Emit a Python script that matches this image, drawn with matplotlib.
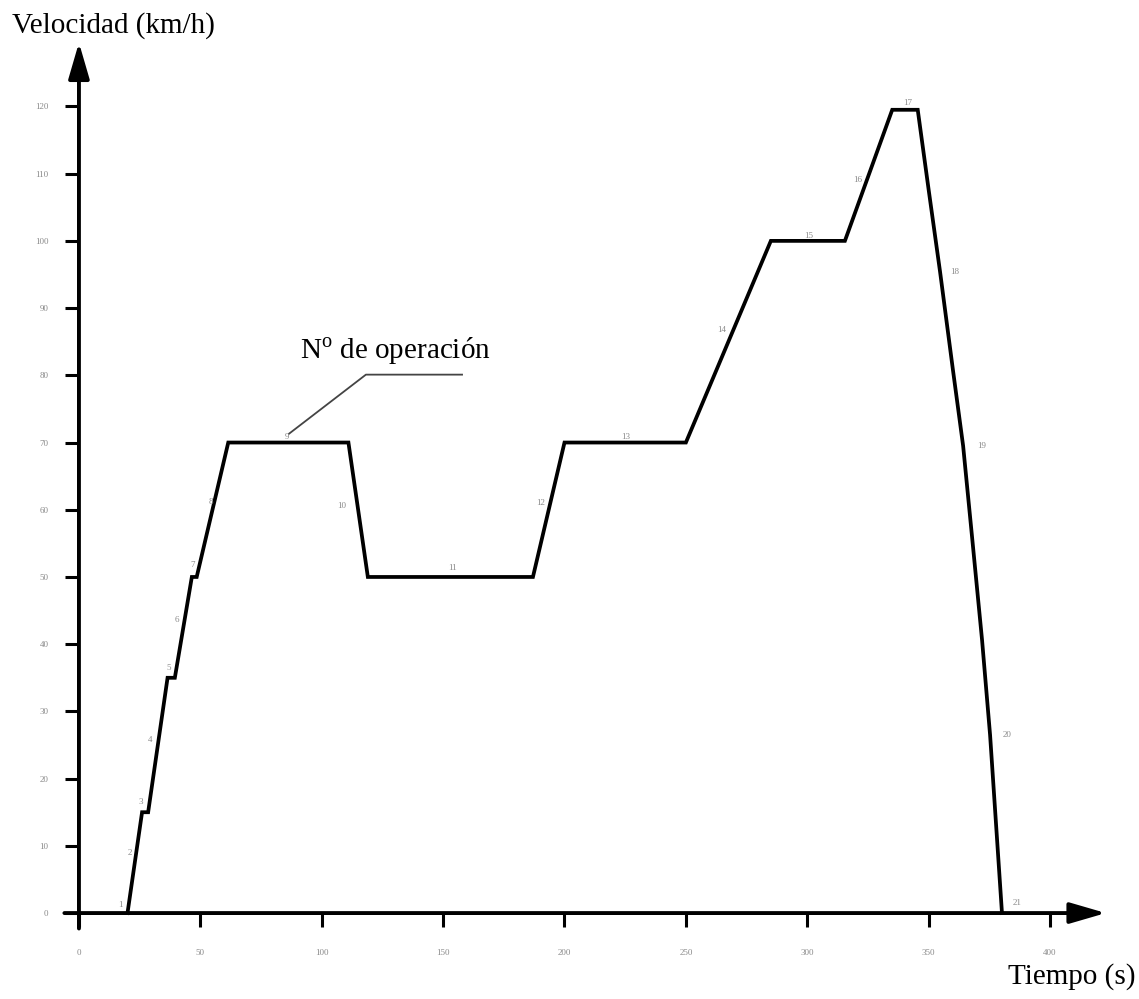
import matplotlib
matplotlib.use('Agg')
import matplotlib.pyplot as plt

plt.rcParams['mathtext.fontset'] = 'custom'
plt.rcParams['mathtext.rm'] = 'Liberation Serif'

# velocity profile (time s, speed km/h)
tiempo = [20, 26, 28.5, 36.5, 39.5, 46.5, 48.5, 61.5, 111, 119, 187, 200, 250,
          285, 315.5, 335, 345.5, 350, 354.7, 360, 364.2, 368, 372, 375.3, 380.2]
velocidad = [0, 15, 15, 35, 35, 50, 50, 70, 70, 50, 50, 70, 70,
             100, 100, 119.5, 119.5, 107.6, 95.4, 80.8, 69.5, 55.5, 40.6, 26.5, 0]

# operation numbers and where their labels sit
op_num = [str(i) for i in range(1, 22)]
op_t = [16.9, 21, 25.5, 29.5, 37.1, 40.4, 47, 54.4, 85.7, 108.3, 153.7,
        190, 225.3, 264.9, 300.7, 320.9, 341.5, 360.9, 372, 382.3, 386.4]
op_v = [1.2, 8.9, 16.5, 25.7, 36.5, 43.6, 51.8, 61.2, 70.8, 60.6, 51.3,
        61, 70.8, 86.8, 100.7, 109.1, 120.5, 95.4, 69.5, 26.5, 1.5]

x_ticks = [0, 50, 100, 150, 200, 250, 300, 350, 400]
y_ticks = [0, 10, 20, 30, 40, 50, 60, 70, 80, 90, 100, 110, 120]

# leader line for the "Nº de operación" callout
leader_t = [86.5, 118.2, 157.8]
leader_v = [71.3, 80.1, 80.1]

serif = ['Liberation Serif', 'DejaVu Serif']

fig = plt.figure(figsize=(11.39, 9.99), dpi=100)
ax = fig.add_axes([0.048, 0.0322, 0.9485, 0.942])
ax.set_xlim(-10, 435)
ax.set_ylim(-8, 132)

for s in ax.spines.values():
    s.set_visible(False)
ax.spines['left'].set_position(('data', 0))
ax.spines['bottom'].set_position(('data', 0))

# axes drawn as arrows
arrow = dict(arrowstyle='-|>,head_length=1.1,head_width=0.32', lw=2.8,
             color='black', shrinkA=0, shrinkB=0, mutation_scale=20)
ax.annotate('', xy=(423, 0), xytext=(-6, 0), arrowprops=arrow)
ax.annotate('', xy=(0, 129.5), xytext=(0, -2.3), arrowprops=arrow)

ax.set_xticks(x_ticks)
ax.set_yticks(y_ticks)
ax.tick_params(axis='both', direction='out', length=10, width=2.2,
               color='black', labelsize=6.5, labelcolor='#8a8a8a')
ax.tick_params(axis='x', pad=16)
ax.tick_params(axis='y', pad=12)
for lab in ax.get_xticklabels() + ax.get_yticklabels():
    lab.set_family(serif)

ax.plot(tiempo, velocidad, color='black', lw=2.7, solid_joinstyle='miter',
        zorder=3)
ax.plot(leader_t, leader_v, color='#444444', lw=1.3, zorder=2)

for n, t, v in zip(op_num, op_t, op_v):
    ax.text(t, v, n, fontsize=6.5, color='#8a8a8a', family=serif,
            ha='center', va='center')

ax.text(91, 82.4, 'N$^{\\mathrm{o}}$ de operación', fontsize=21,
        family=serif, ha='left', va='baseline')

fig.text(12 / 1139, 1 - 33 / 999, 'Velocidad (km/h)', fontsize=21,
         family=serif, ha='left', va='baseline')
fig.text(1135 / 1139, 1 - 984 / 999, 'Tiempo (s)', fontsize=21,
         family=serif, ha='right', va='baseline')

fig.savefig('out.png', dpi=100)
